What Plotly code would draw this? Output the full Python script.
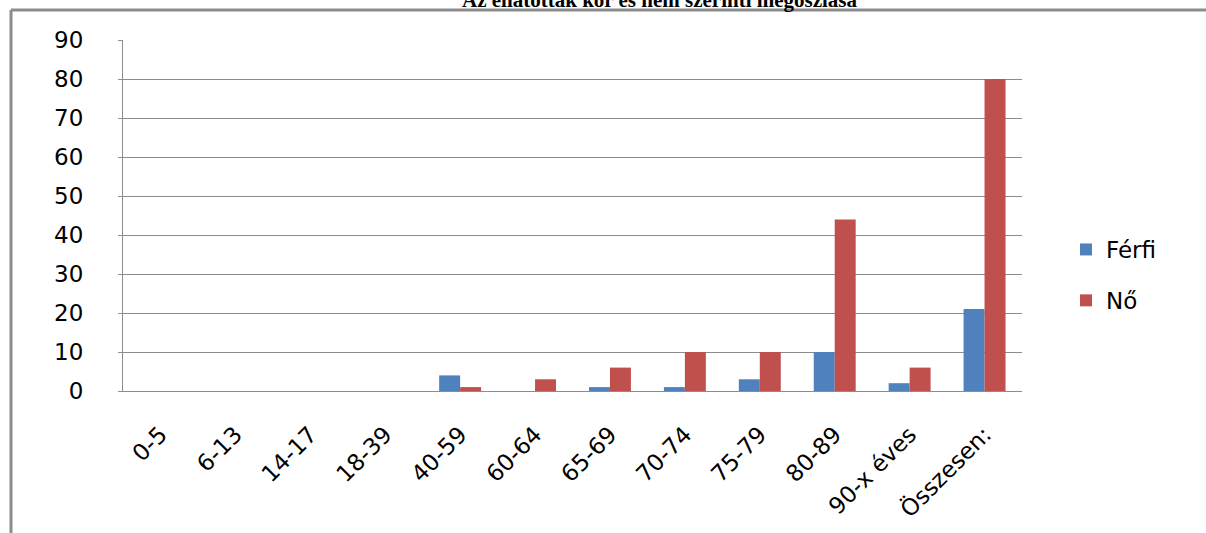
import plotly.graph_objects as go

categories = ["0-5", "6-13", "14-17", "18-39", "40-59", "60-64", "65-69", "70-74",
              "75-79", "80-89", "90-x éves", "Összesen:"]
ferfi = [0, 0, 0, 0, 4, 0, 1, 1, 3, 10, 2, 21]
no = [0, 0, 0, 0, 1, 3, 6, 10, 10, 44, 6, 80]
y_ticks = [0, 10, 20, 30, 40, 50, 60, 70, 80, 90]
title_text = "Az ellátottak kor és nem szerinti megoszlása"

W, H = 1206, 533
L, T = 123, 40
PR, PB = 1022, 391
R, B = W - PR, H - PB
pw, ph = PR - L, PB - T

fig = go.Figure()
fig.add_trace(go.Bar(name="Férfi", x=categories, y=ferfi, marker_color="#4F81BD",
                     marker_line_width=0, legendgroup="a"))
fig.add_trace(go.Bar(name="Nő", x=categories, y=no, marker_color="#C0504D",
                     marker_line_width=0, legendgroup="b"))

# outer frame (top and left borders)
fx = (11 - L) / pw
fy = (PB - 10) / ph
fig.add_shape(type="line", xref="paper", yref="paper", x0=fx, x1=(W + 20 - L) / pw,
              y0=fy, y1=fy, line=dict(color="#8C8C8C", width=3))
fig.add_shape(type="line", xref="paper", yref="paper", x0=fx, x1=fx,
              y0=fy, y1=-(B + 20) / ph, line=dict(color="#8C8C8C", width=3))

fig.add_annotation(text="<b>" + title_text + "</b>", xref="paper", yref="paper",
                   x=(660 - L) / pw, y=(PB - 0) / ph,
                   xanchor="center", yanchor="middle", showarrow=False,
                   font=dict(family="Liberation Serif", size=21, color="#000000"))

fig.update_layout(
    width=W, height=H,
    margin=dict(l=L, r=R, t=T, b=B),
    paper_bgcolor="white", plot_bgcolor="white",
    barmode="group", bargap=0.44, bargroupgap=0,
    font=dict(family="DejaVu Sans", color="#000000"),
    legend=dict(x=(1066 - L) / pw, xanchor="left", y=(PB - 275) / ph,
                yanchor="middle", font=dict(size=23, family="DejaVu Sans"),
                tracegroupgap=18, traceorder="grouped", bgcolor="rgba(0,0,0,0)"),
    showlegend=True,
)
fig.update_xaxes(showline=True, linecolor="#8C8C8C", linewidth=1, ticks="outside",
                 ticklen=0, tickangle=-45, tickfont=dict(size=23), showgrid=False,
                 ticklabelstandoff=20)
fig.update_yaxes(range=[0, 90], tickvals=y_ticks, showgrid=True, gridcolor="#8C8C8C",
                 gridwidth=1, showline=True, linecolor="#8C8C8C", linewidth=1,
                 ticks="outside", ticklen=4, tickcolor="#8C8C8C",
                 tickfont=dict(size=23), zeroline=False, ticklabelstandoff=30)

fig.write_html("out.html", config={"displayModeBar": False},
               post_script="document.body.style.margin='0';")
